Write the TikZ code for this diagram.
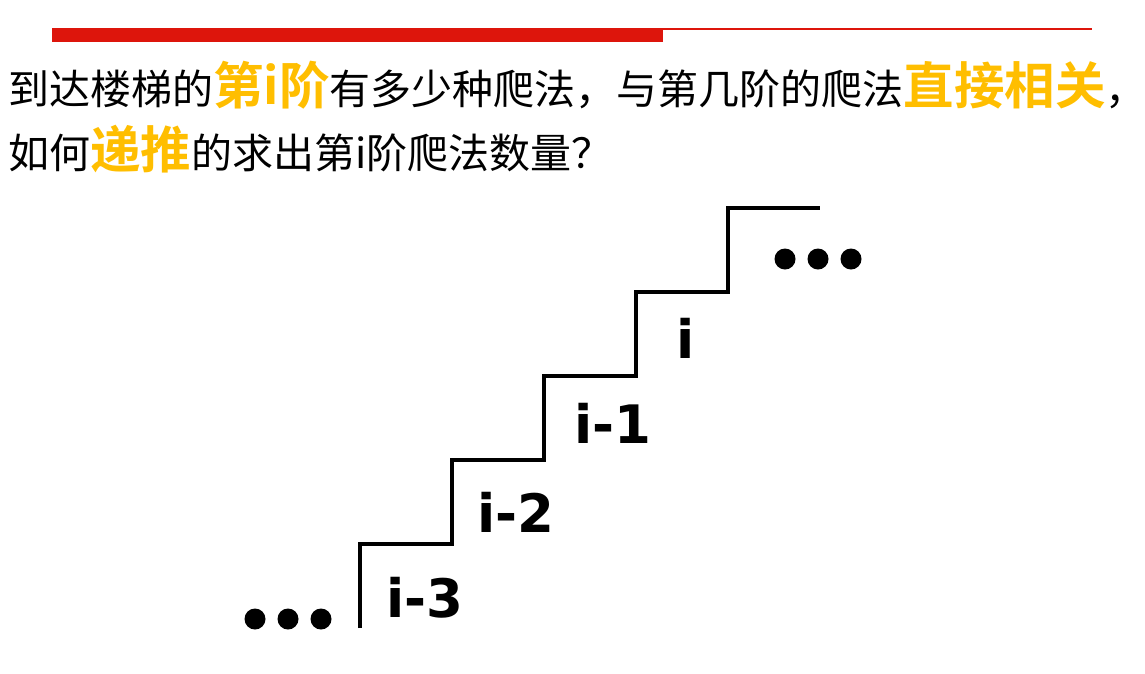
\documentclass[tikz,border=0pt]{standalone}
\usepackage{fontspec}
\newfontfamily\cjk{Noto Sans CJK SC}[BoldFont={Noto Sans CJK SC Bold}]
\newfontfamily\labelfont{DejaVu Sans}
\usepackage{xcolor}
\definecolor{barred}{RGB}{221,21,12}
\definecolor{hiorange}{RGB}{255,190,0}
\newcommand{\hl}[1]{{\fontsize{50.5}{53}\selectfont\bfseries\color{hiorange}#1}}
\tikzset{
  textline/.style = {anchor=base west, inner sep=0pt, font=\cjk\fontsize{41}{44}\selectfont},
  stairs/.style = {line width=4pt, line join=miter, black},
  steplabel/.style = {inner sep=0pt, font=\labelfont\bfseries\fontsize{53}{55}\selectfont},% numero de marche
  dot/.style = {fill=black}
}

\begin{document}
\begin{tikzpicture}[x=1pt,y=-1pt]
    \useasboundingbox (0,0) rectangle (1145,673);
    % bandeau rouge
    \draw[barred, line width=2pt] (52,28.5) -- (1092,28.5);
    \fill[barred] (52,28) rectangle (663,42);
    % question
    \node[textline] (line1) at (8,104) {到达楼梯的\hl{第i阶}有多少种爬法，与第几阶的爬法\hl{直接相关}\makebox[0.4em][l]{，}};
    \node[textline] (line2) at (8,168) {如何\hl{递推}的求出第i阶爬法数量？};
    % escalier
    \coordinate (s0) at (360,628);
    \draw[stairs] (s0) \foreach \k in {1,...,5}{ -- ++(0,-84) -- ++(92,0) };
    \node[steplabel] (i3) at (425,598) {i-3};
    \node[steplabel] (i2) at (516,512) {i-2};
    \node[steplabel] (i1) at (613,423) {i-1};
    \node[steplabel] (i0) at (686,338) {i};
    % points de suspension
    \foreach \x in {255,288,321}
        \fill[dot] (\x,619) circle (10.5);
    \foreach \x in {785,818,851}
        \fill[dot] (\x,259) circle (10.5);
\end{tikzpicture}
\end{document}
